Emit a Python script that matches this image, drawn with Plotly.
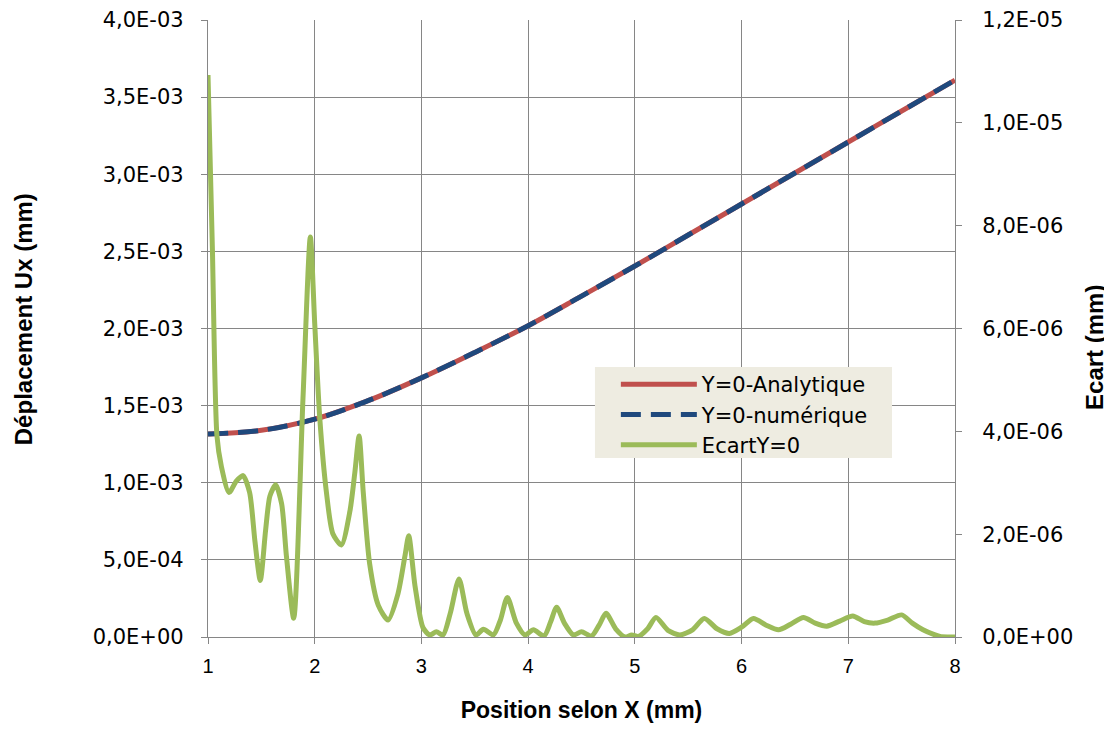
import plotly.graph_objects as go

# ---- data ----
x_ux = [1.0, 1.5, 2.0, 2.5, 3.0, 3.5, 4.0, 4.5, 5.0, 5.5, 6.0, 6.5, 7.0, 7.5, 8.0]
ux_analytique = [1.316, 1.340, 1.412, 1.532, 1.680, 1.845, 2.018, 2.210, 2.405, 2.606, 2.807, 3.008, 3.209, 3.410, 3.610]  # x 1e-3 mm
ux_numerique = [1.316, 1.340, 1.412, 1.532, 1.680, 1.845, 2.018, 2.210, 2.405, 2.606, 2.807, 3.008, 3.209, 3.410, 3.610]   # x 1e-3 mm

x_ecart = [1.0, 1.041, 1.084, 1.125, 1.197, 1.265, 1.328, 1.39, 1.44, 1.49, 1.54, 1.58, 1.634, 1.69, 1.735, 1.803,
           1.89, 1.959, 2.0, 2.047, 2.11, 2.17, 2.25, 2.33, 2.375, 2.416, 2.455, 2.515, 2.595, 2.6875, 2.78, 2.845,
           2.881, 2.94, 3.015, 3.078, 3.14, 3.203, 3.27, 3.352, 3.426, 3.511, 3.58, 3.674, 3.74, 3.805, 3.89, 3.971,
           4.05, 4.149, 4.21, 4.267, 4.34, 4.424, 4.50, 4.595, 4.665, 4.73, 4.82, 4.908, 4.97, 5.033, 5.12, 5.198,
           5.31, 5.423, 5.54, 5.651, 5.77, 5.886, 6.0, 6.111, 6.23, 6.346, 6.46, 6.58, 6.69, 6.798, 6.92, 7.042,
           7.15, 7.25, 7.37, 7.50, 7.60, 7.70, 7.80, 7.86, 7.93, 8.0]
ecart = [10.93, 7.56, 3.91, 3.32, 2.81, 3.03, 3.14, 2.81, 1.86, 1.10, 2.08, 2.74, 2.96, 2.59, 1.57, 0.365,
         4.64, 7.78, 6.10, 4.27, 2.81, 2.01, 1.79, 2.45, 3.18, 3.91, 2.81, 1.42, 0.62, 0.33, 0.84, 1.57,
         1.97, 0.99, 0.18, 0.04, 0.10, 0.04, 0.46, 1.13, 0.46, 0.04, 0.15, 0.04, 0.33, 0.77, 0.27, 0.04,
         0.14, 0.02, 0.29, 0.58, 0.27, 0.04, 0.10, 0.02, 0.23, 0.46, 0.16, 0.0, 0.04, 0.01, 0.16, 0.38,
         0.13, 0.04, 0.14, 0.36, 0.16, 0.07, 0.19, 0.36, 0.23, 0.14, 0.25, 0.38, 0.27, 0.21, 0.31, 0.41,
         0.30, 0.27, 0.33, 0.43, 0.27, 0.14, 0.05, 0.01, 0.0, 0.0]  # x 1e-6 mm

x_ticks = [1, 2, 3, 4, 5, 6, 7, 8]
y_left_ticks = [0, 0.5, 1.0, 1.5, 2.0, 2.5, 3.0, 3.5, 4.0]
y_left_labels = ["0,0E+00", "5,0E-04", "1,0E-03", "1,5E-03", "2,0E-03", "2,5E-03", "3,0E-03", "3,5E-03", "4,0E-03"]
y_right_ticks = [0, 2, 4, 6, 8, 10, 12]
y_right_labels = ["0,0E+00", "2,0E-06", "4,0E-06", "6,0E-06", "8,0E-06", "1,0E-05", "1,2E-05"]

x_title = "Position selon X (mm)"
y_title = "Déplacement Ux (mm)"
y2_title = "Ecart (mm)"

RED = "#C0504D"
BLUE = "#1F497D"
GREEN = "#9BBB59"
GRID = "#868686"
TICKFONT = dict(family="DejaVu Sans", size=21, color="#000000")
TITLEFONT = dict(family="Liberation Sans", size=23, color="#000000")

fig = go.Figure()
fig.add_trace(go.Scatter(x=x_ux, y=ux_analytique, name="Y=0-Analytique", mode="lines",
                         line=dict(color=RED, width=5, shape="spline")))
fig.add_trace(go.Scatter(x=x_ux, y=ux_numerique, name="Y=0-numérique", mode="lines",
                         line=dict(color=BLUE, width=5, dash="20px,10px", shape="spline")))
fig.add_trace(go.Scatter(x=x_ecart, y=ecart, name="EcartY=0", mode="lines", yaxis="y2",
                         line=dict(color=GREEN, width=5, shape="spline", smoothing=0.7)))

# legend background box (paper coords relative to plot area)
fig.add_shape(type="rect", xref="paper", yref="paper", x0=0.518, x1=0.9157, y0=0.290, y1=0.4376,
              fillcolor="#EEECE1", line=dict(width=0), layer="above")

# y-axis titles as rotated annotations
fig.add_annotation(text="<b>%s</b>" % y_title, xref="paper", yref="paper", x=-0.2477, y=0.515,
                   textangle=-90, showarrow=False, font=dict(family="Liberation Sans", size=24, color="#000000"),
                   xanchor="center", yanchor="middle")
fig.add_annotation(text="<b>%s</b>" % y2_title, xref="paper", yref="paper", x=1.186, y=0.47,
                   textangle=-90, showarrow=False, font=dict(family="Liberation Sans", size=24, color="#000000"),
                   xanchor="center", yanchor="middle")

fig.update_layout(
    width=1104, height=721,
    margin=dict(l=200, r=157, t=12, b=92),
    paper_bgcolor="white", plot_bgcolor="white",
    showlegend=True,
    legend=dict(x=0.546, y=0.4425, xanchor="left", yanchor="top",
                bgcolor="rgba(0,0,0,0)", borderwidth=0,
                font=dict(family="DejaVu Sans", size=21, color="#000000"),
                itemwidth=76),
    xaxis=dict(range=[1, 8], tickvals=x_ticks, ticktext=[str(v) for v in x_ticks], automargin=False,
               showgrid=True, gridcolor=GRID, gridwidth=1.3, zeroline=False,
               showline=True, linecolor=GRID, linewidth=1.3,
               ticks="outside", ticklen=6, tickcolor=GRID, tickwidth=1.3, ticklabelstandoff=5,
               tickfont=dict(family="Liberation Sans", size=20, color="#000000"),
               title=dict(text="<b>%s</b>" % x_title, font=TITLEFONT, standoff=25)),
    yaxis=dict(range=[0, 4], tickvals=y_left_ticks, ticktext=y_left_labels, automargin=False,
               showgrid=True, gridcolor=GRID, gridwidth=1.3, zeroline=False,
               showline=True, linecolor=GRID, linewidth=1.3,
               ticks="outside", ticklen=6, tickcolor=GRID, tickwidth=1.3,
               ticklabelstandoff=13, tickfont=TICKFONT),
    yaxis2=dict(range=[0, 12], tickvals=y_right_ticks, ticktext=y_right_labels, automargin=False,
                overlaying="y", side="right", showgrid=False, zeroline=False,
                showline=True, linecolor=GRID, linewidth=1.3,
                ticks="outside", ticklen=6, tickcolor=GRID, tickwidth=1.3,
                ticklabelstandoff=16, tickfont=TICKFONT),
)

fig.write_html("out.html")
